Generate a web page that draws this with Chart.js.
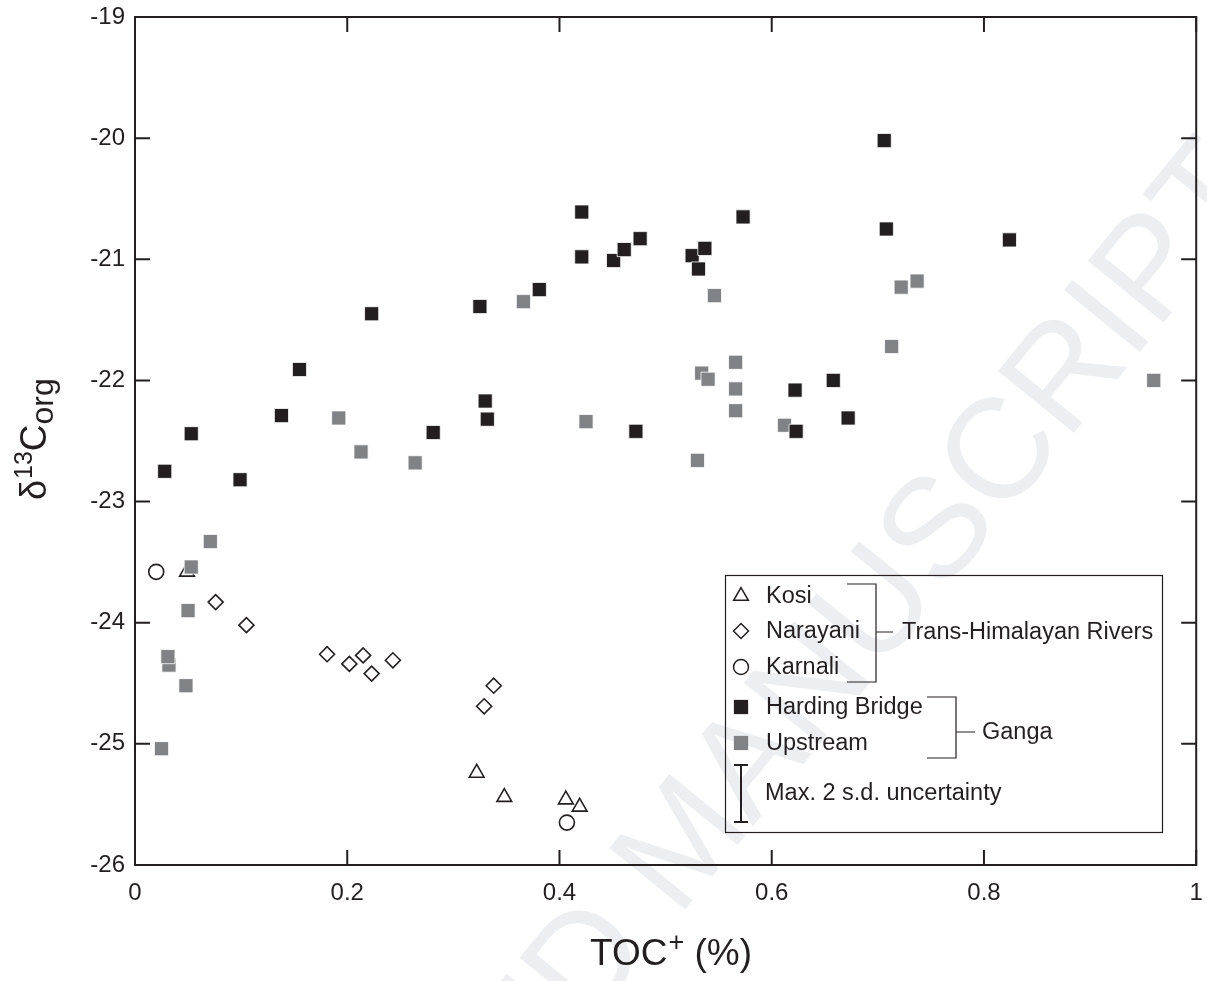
<!DOCTYPE html>
<html>
<head>
<meta charset="utf-8">
<script src="https://cdn.jsdelivr.net/npm/chart.js@4/dist/chart.umd.min.js"></script>
<style>
  html, body { margin: 0; padding: 0; background: #fff; }
  #wrap { width: 1207px; height: 981px; }
</style>
</head>
<body>
<div id="wrap"><canvas id="chart"></canvas></div>
<script>
// TOC+ (%) and d13C org values
const kosiToc = [0.049, 0.322, 0.348, 0.406, 0.419];
const kosiD13C = [-23.58, -25.24, -25.44, -25.46, -25.52];

const narayaniToc = [0.076, 0.105, 0.181, 0.202, 0.215, 0.223, 0.243, 0.338, 0.329];
const narayaniD13C = [-23.83, -24.02, -24.26, -24.34, -24.27, -24.42, -24.31, -24.52, -24.69];

const karnaliToc = [0.020, 0.407];
const karnaliD13C = [-23.58, -25.65];

const hardingToc = [0.028, 0.053, 0.099, 0.138, 0.155, 0.223, 0.281, 0.325, 0.330, 0.332,
    0.381, 0.421, 0.421, 0.451, 0.461, 0.476, 0.472, 0.525, 0.531, 0.537,
    0.573, 0.622, 0.623, 0.658, 0.672, 0.706, 0.708, 0.824];
const hardingD13C = [-22.75, -22.44, -22.82, -22.29, -21.91, -21.45, -22.43, -21.39, -22.17, -22.32,
    -21.25, -20.61, -20.98, -21.01, -20.92, -20.83, -22.42, -20.97, -21.08, -20.91,
    -20.65, -22.08, -22.42, -22.00, -22.31, -20.02, -20.75, -20.84];

const upstreamToc = [0.025, 0.048, 0.032, 0.031, 0.050, 0.053, 0.071, 0.192, 0.213, 0.264,
    0.366, 0.425, 0.530, 0.534, 0.540, 0.546, 0.566, 0.566, 0.566, 0.612,
    0.713, 0.722, 0.737, 0.960];
const upstreamD13C = [-25.04, -24.52, -24.35, -24.28, -23.90, -23.54, -23.33, -22.31, -22.59, -22.68,
    -21.35, -22.34, -22.66, -21.94, -21.99, -21.30, -21.85, -22.07, -22.25, -22.37,
    -21.72, -21.23, -21.18, -22.00];

const xTickVals = [0, 0.2, 0.4, 0.6, 0.8, 1];
const yTickVals = [-26, -25, -24, -23, -22, -21, -20, -19];

const ink = '#231f20';
const grey = '#808285';
const fontFam = '"Liberation Sans", Arial, sans-serif';

function pts(xs, ys) {
    return xs.map((v, i) => ({ x: v, y: ys[i] }));
}

const openStyle = { backgroundColor: 'rgba(0,0,0,0)', borderColor: ink, borderWidth: 1.6 };

const datasets = [
    { label: 'Kosi', data: pts(kosiToc, kosiD13C), pointStyle: 'triangle', pointRadius: 8.5, order: 3, ...openStyle },
    { label: 'Narayani', data: pts(narayaniToc, narayaniD13C), pointStyle: 'rectRot', pointRadius: 7.5, order: 3, ...openStyle },
    { label: 'Karnali', data: pts(karnaliToc, karnaliD13C), pointStyle: 'circle', pointRadius: 7.5, order: 3, ...openStyle },
    { label: 'Upstream', data: pts(upstreamToc, upstreamD13C), pointStyle: 'rect', pointRadius: 10, order: 2,
      backgroundColor: grey, borderColor: '#ffffff', borderWidth: 0.8 },
    { label: 'Harding Bridge', data: pts(hardingToc, hardingD13C), pointStyle: 'rect', pointRadius: 10, order: 1,
      backgroundColor: ink, borderColor: '#ffffff', borderWidth: 0.8 }
];

// faint publisher watermark, drawn first so everything sits on top of it
const watermark = {
    id: 'watermark',
    beforeDraw(chart) {
        const ctx = chart.ctx;
        ctx.save();
        ctx.font = '142px ' + fontFam;
        ctx.fillStyle = '#eceef1';
        ctx.textBaseline = 'middle';
        const pre = ctx.measureText('ACCEPTED ').width;
        const word = ctx.measureText('MANUSCRIPT').width;
        ctx.translate(944, 530);
        ctx.rotate(-50.8 * Math.PI / 180);
        ctx.fillText('ACCEPTED MANUSCRIPT', -(pre + word / 2), 0);
        ctx.restore();
    }
};

// frame, inward ticks, axis titles and the boxed legend
const decor = {
    id: 'decor',
    afterDraw(chart) {
        const { ctx, chartArea: a, scales: { x, y } } = chart;
        ctx.save();
        ctx.strokeStyle = ink;
        ctx.lineWidth = 2;
        ctx.strokeRect(a.left, a.top, a.right - a.left, a.bottom - a.top);

        ctx.beginPath();
        yTickVals.forEach(v => {
            const p = y.getPixelForValue(v);
            ctx.moveTo(a.left, p); ctx.lineTo(a.left + 15, p);
            ctx.moveTo(a.right, p); ctx.lineTo(a.right - 15, p);
        });
        xTickVals.forEach(v => {
            const p = x.getPixelForValue(v);
            ctx.moveTo(p, a.bottom); ctx.lineTo(p, a.bottom - 15);
            ctx.moveTo(p, a.top); ctx.lineTo(p, a.top + 15);
        });
        ctx.stroke();

        // x title: TOC+ (%)
        ctx.fillStyle = ink;
        ctx.textBaseline = 'alphabetic';
        ctx.textAlign = 'left';
        ctx.font = '37px ' + fontFam;
        let tx = 590;
        ctx.fillText('TOC', tx, 965);
        tx += ctx.measureText('TOC').width + 1;
        ctx.font = '27px ' + fontFam;
        ctx.fillText('+', tx, 951);
        tx += ctx.measureText('+').width;
        ctx.font = '37px ' + fontFam;
        ctx.fillText(' (%)', tx, 965);

        // y title: d13Corg (rotated)
        ctx.save();
        ctx.translate(46, 500);
        ctx.rotate(-Math.PI / 2);
        let ty = 0;
        ctx.font = '36px ' + fontFam;
        ctx.fillText('δ', ty, 0);
        ty += ctx.measureText('δ').width + 1;
        ctx.font = '25px ' + fontFam;
        ctx.fillText('13', ty, -14);
        ty += ctx.measureText('13').width;
        ctx.font = '37px ' + fontFam;
        ctx.fillText('C', ty, 0);
        ty += ctx.measureText('C').width;
        ctx.font = '32px ' + fontFam;
        ctx.fillText('org', ty, 7);
        ctx.restore();

        // legend box
        const lx = 725, ly = 575;
        ctx.lineWidth = 1.2;
        ctx.strokeRect(lx + 0.5, ly + 0.5, 437, 257);

        const rows = [
            { ds: 0, dy: 21 },
            { ds: 1, dy: 56 },
            { ds: 2, dy: 92 },
            { ds: 4, dy: 132 },
            { ds: 3, dy: 168 }
        ];
        ctx.font = '23.5px ' + fontFam;
        ctx.textBaseline = 'middle';
        rows.forEach(r => {
            const d = datasets[r.ds];
            const isRect = d.pointStyle === 'rect';
            ctx.fillStyle = d.backgroundColor;
            ctx.strokeStyle = isRect ? d.backgroundColor : ink;
            ctx.lineWidth = isRect ? 0.1 : 1.5;
            Chart.helpers.drawPoint(ctx, { pointStyle: d.pointStyle, radius: isRect ? 10 : d.pointRadius, rotation: 0, borderWidth: ctx.lineWidth }, lx + 16, ly + r.dy);
            ctx.fillStyle = ink;
            ctx.fillText(d.label, lx + 41, ly + r.dy + 1);
        });

        // 2 s.d. uncertainty bar
        ctx.strokeStyle = ink;
        ctx.lineWidth = 2;
        ctx.beginPath();
        ctx.moveTo(lx + 16, ly + 190); ctx.lineTo(lx + 16, ly + 247);
        ctx.moveTo(lx + 9, ly + 190); ctx.lineTo(lx + 23, ly + 190);
        ctx.moveTo(lx + 9, ly + 247); ctx.lineTo(lx + 23, ly + 247);
        ctx.stroke();
        ctx.fillText('Max. 2 s.d. uncertainty', lx + 40, ly + 219);

        // group brackets
        ctx.lineWidth = 1.2;
        ctx.beginPath();
        ctx.moveTo(847, 584); ctx.lineTo(876, 584); ctx.lineTo(876, 682); ctx.lineTo(847, 682);
        ctx.moveTo(876, 632); ctx.lineTo(893, 632);
        ctx.moveTo(927, 697); ctx.lineTo(956, 697); ctx.lineTo(956, 758); ctx.lineTo(927, 758);
        ctx.moveTo(956, 732); ctx.lineTo(975, 732);
        ctx.stroke();
        ctx.fillText('Trans-Himalayan Rivers', 902, 633);
        ctx.fillText('Ganga', 982, 733);
        ctx.restore();
    }
};

new Chart(document.getElementById('chart'), {
    type: 'scatter',
    data: { datasets: datasets },
    options: {
        responsive: true,
        maintainAspectRatio: false,
        animation: false,
        layout: { padding: { top: 17, right: 9, left: 0, bottom: 0 } },
        plugins: {
            legend: { display: false },
            tooltip: { enabled: false }
        },
        scales: {
            x: {
                type: 'linear',
                min: 0,
                max: 1,
                afterFit: s => { s.height = 116; s.paddingLeft = 0; s.paddingRight = 0; },
                afterBuildTicks: s => { s.ticks = xTickVals.map(v => ({ value: v })); },
                ticks: { color: ink, font: { family: fontFam, size: 24 }, padding: 6, callback: v => String(v) },
                grid: { display: false },
                border: { display: false }
            },
            y: {
                min: -26,
                max: -19,
                afterFit: s => { s.width = 135; s.paddingTop = 0; s.paddingBottom = 0; },
                afterBuildTicks: s => { s.ticks = yTickVals.map(v => ({ value: v })); },
                ticks: { color: ink, font: { family: fontFam, size: 24 }, padding: 2 },
                grid: { display: false },
                border: { display: false }
            }
        }
    },
    plugins: [watermark, decor]
});
</script>
</body>
</html>
